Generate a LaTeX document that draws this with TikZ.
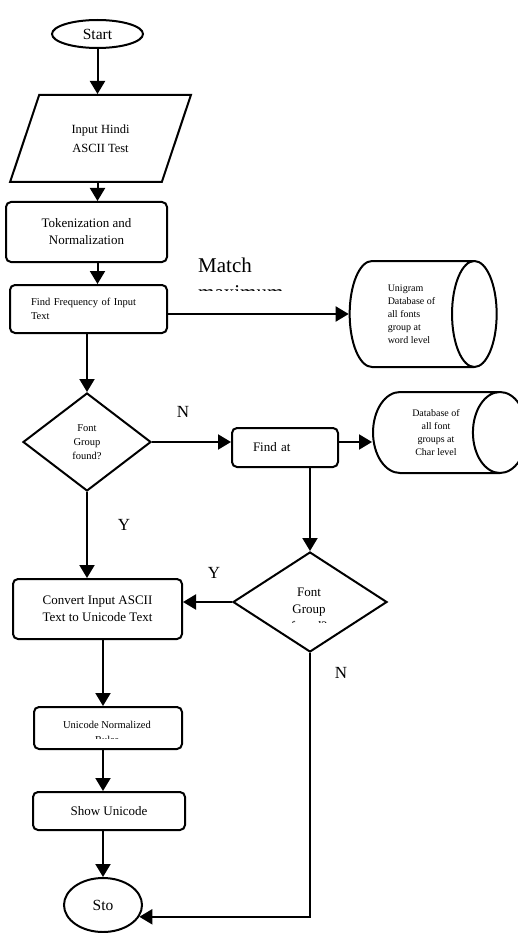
\documentclass[tikz,border=0pt]{standalone}
\usepackage{fontspec}
\setmainfont{Liberation Serif}
\usetikzlibrary{shapes.geometric,arrows.meta}

\tikzset{
    arr/.style={-{Triangle[length=13pt,width=15pt]}, line width=2pt, black},
    terminal/.style={ellipse, draw, line width=2pt, inner sep=0pt},
    procbox/.style={rectangle, draw, rounded corners=5pt, line width=2pt, inner sep=0pt, align=center},
    iobox/.style={trapezium, trapezium stretches=true, trapezium left angle=63.7, trapezium right angle=116.3, draw, line width=2pt, inner sep=0pt, align=center},
    decision/.style={diamond, draw, line width=2pt, inner sep=0pt, align=center},
    dbase/.style={cylinder, shape border rotate=0, draw, line width=2pt, inner sep=0pt},
    yn/.style={font=\fontsize{17}{17}\selectfont}
}

\begin{document}
\begin{tikzpicture}[x=1pt,y=-1pt]
        \useasboundingbox (0,0) rectangle (518,933);
        % left column
        \node[terminal, minimum width=91pt, minimum height=28pt, font=\fontsize{15.5}{18}\selectfont] (start) at (97.5,34) {Start};
        \node[iobox, minimum width=181pt, minimum height=87pt, font=\fontsize{12.5}{19}\selectfont] (input) at (100.5,138.5) {Input Hindi\\ASCII Test};
        \node[procbox, minimum width=161pt, minimum height=60pt, font=\fontsize{13}{17}\selectfont] (tok) at (86.5,232) {Tokenization and\\Normalization};
        \node[procbox, minimum width=157pt, minimum height=48pt, text width=115pt, align=left, font=\fontsize{10.5}{14}\selectfont] (freq) at (88.5,309) {Find Frequency of Input\\Text};
        \node[decision, minimum width=128pt, minimum height=98pt, font=\fontsize{10.5}{14}\selectfont] (fgfound) at (87,442) {Font\\Group\\found?};
        \node[procbox, minimum width=169pt, minimum height=60pt, font=\fontsize{13}{17}\selectfont] (conv) at (97.5,609) {Convert Input ASCII\\Text to Unicode Text};
        \node[procbox, minimum width=148pt, minimum height=42pt] (unorm) at (108,728) {};
        \node[procbox, minimum width=152pt, minimum height=38pt, font=\fontsize{13}{17}\selectfont] (show) at (109,811) {Show Unicode};
        \node[terminal, minimum width=78pt, minimum height=54pt, font=\fontsize{15.5}{18}\selectfont] (sto) at (103,905) {Sto};
        % right side
        \node[dbase, minimum width=106pt, minimum height=147pt, aspect=0.76, align=left, font=\fontsize{10}{13}\selectfont] (unigram) at (411.5,314) {Unigram\\Database of\\all fonts\\group at\\word level};
        \node[procbox, minimum width=106pt, minimum height=39pt, text width=64pt, align=left, font=\fontsize{13}{17}\selectfont] (findat) at (285,447.5) {Find at};
        \node[dbase, minimum width=81pt, minimum height=154pt, aspect=1.15, align=center, font=\fontsize{10}{13.3}\selectfont] (chardb) at (436,432.5) {Database of\\all font\\groups at\\Char level};
        \node[decision, minimum width=154pt, minimum height=100pt] (fgfound2) at (310,602) {};
        % clipped texts
        \node[anchor=base west, inner sep=0pt, font=\fontsize{21}{24}\selectfont] (match) at (198,272) {Match};
        \begin{scope}
            \clip (190,280) rectangle (300,290);
            \node[anchor=base west, inner sep=0pt, font=\fontsize{21}{24}\selectfont] (maxm) at (198,299.5) {maximum};
        \end{scope}
        \begin{scope}
            \clip (250,570) rectangle (370,622);
            \node[inner sep=0pt, align=center, font=\fontsize{13}{17}\selectfont] (fgtext) at (309,609) {Font\\Group\\found?};
        \end{scope}
        \begin{scope}
            \clip (40,712) rectangle (176,738);
            \node[inner sep=0pt, align=center, font=\fontsize{10.5}{15}\selectfont] (untext) at (107,732) {Unicode Normalized\\Rules};
        \end{scope}
        % Y and N
        \node[yn] (n1) at (183,412) {N};
        \node[yn] (y1) at (124,525) {Y};
        \node[yn] (y2) at (214,573) {Y};
        \node[yn] (n2) at (341,673) {N};
        % arrows
        \draw[arr] (start.south) -- (start.south |- input.top side);
        \draw[arr] (start.south |- input.bottom side) -- (start.south |- tok.north);
        \draw[arr] (start.south |- tok.south) -- (start.south |- freq.north);
        \draw[arr] (fgfound.north |- freq.south) -- (fgfound.north);
        \draw[arr] (freq.east |- unigram.west) -- (unigram.west);
        \draw[arr] (fgfound.east) -- (findat.west |- fgfound.east);
        \draw[arr] (findat.east |- fgfound.east) -- (chardb.west |- fgfound.east);
        \draw[arr] (fgfound2.north |- findat.south) -- (fgfound2.north);
        \draw[arr] (fgfound.south) -- (fgfound.south |- conv.north);
        \draw[arr] (fgfound2.west) -- (conv.east |- fgfound2.west);
        \draw[arr] (sto.north |- conv.south) -- (sto.north |- unorm.north);
        \draw[arr] (sto.north |- unorm.south) -- (sto.north |- show.north);
        \draw[arr] (sto.north |- show.south) -- (sto.north);
        \draw[arr] (fgfound2.south) |- (sto.-18);
\end{tikzpicture}
\end{document}
